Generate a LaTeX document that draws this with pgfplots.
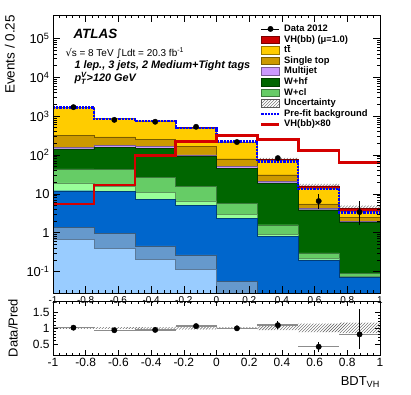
\documentclass[border=0pt]{standalone}
\usepackage{fontspec}
\setmainfont{Liberation Sans}
\newfontfamily\dejavu{DejaVu Sans}
\usepackage{amsmath}
\usepackage{pgfplots}
\pgfplotsset{compat=1.18}
\usepackage{pgfplotstable}
\usetikzlibrary{patterns}
\usepgfplotslibrary{fillbetween}

\definecolor{czl}{HTML}{99CCFF}
\definecolor{czcl}{HTML}{6699CC}
\definecolor{czhf}{HTML}{0066CC}
\definecolor{cwl}{HTML}{99FF99}
\definecolor{cwcl}{HTML}{66CC66}
\definecolor{cwhf}{HTML}{006600}
\definecolor{cmj}{HTML}{CC99FF}
\definecolor{cstop}{HTML}{CC9900}
\definecolor{cttb}{HTML}{FFCC00}
\definecolor{cvh}{HTML}{CC0000}
\definecolor{csig}{HTML}{D40000}
\definecolor{cpre}{HTML}{0000FF}

% cumulative stack tops per bin (left edge), last row closes the final bin
\pgfplotstableread{
x      zl    zcl   zhf   wl    wcl   whf   mj    stop  ttb   vh    hi    pre   sig
-1.00  0.66  1.36  12    19    44    143   157   320   1650  1655  1705  1670  5.5
-0.75  0.40  0.96  11.5  15.5  42    157   178   290   860   861   887   855   17
-0.50  0.21  0.46  7.3   11.1  26.5  151   166   248   760   761   784   755   96
-0.25  0.115 0.27  5.0   6.6   15.5  92    100   166   500   503   523   505   224
0.00   0.02  0.055 2.3   3.0   5.8   46    51    80    214   218   225   222   318
0.25   0.01  0.02  0.80  0.92  1.6   19    21    31    74    77    84    68    248
0.50   0.01  0.015 0.20  0.22  0.30  3.9   4.3   5.5   13.6  16.0  18.0  13.3  131
0.75   0.01  0.012 0.07  0.075 0.089 1.88  1.94  2.46  3.6   4.3   5.0   3.3   64
1.00   0.01  0.012 0.07  0.075 0.089 1.88  1.94  2.46  3.6   4.3   5.0   3.3   64
}\stacktab

\pgfplotstableread{
x       n     ep    em    r     rp     rm
-0.875  1700  41    41    1.01  0.03   0.03
-0.625  800   28    28    0.93  0.035  0.035
-0.375  715   27    27    0.94  0.035  0.035
-0.125  530   23    23    1.06  0.05   0.05
0.125   215   15    15    0.99  0.07   0.07
0.375   83    9     9     1.09  0.12   0.12
0.625   6.5   3.6   2.5   0.41  0.15   0.15
0.875   3.4   3.3   1.8   0.80  0.81   0.45
}\datatab

\pgfplotstableread{
x      lo    hi
-1.00  0.97  1.03
-0.75  0.97  1.03
-0.50  0.97  1.03
-0.25  0.96  1.04
0.00   0.97  1.03
0.25   0.93  1.08
0.50   0.87  1.14
0.75   0.84  1.17
1.00   0.84  1.17
}\bandtab

\pgfplotsset{
  layer/.style={const plot, fill=#1, draw=#1!60!black, line width=0.4bp, forget plot},
  boxleg/.style={legend image code/.code={\draw[##1] (0bp,-3.8bp) rectangle (18bp,3.8bp);}},
  lineleg/.style={legend image code/.code={\draw[##1] (0bp,0bp) -- (18bp,0bp);}},
  dataleg/.style={legend image code/.code={\draw[black, line width=0.8bp] (0bp,0bp) -- (18bp,0bp);
      \fill[black] (9bp,0bp) circle (2.7bp);}},
  atlas/.style={scale only axis, width=327bp, xmin=-1, xmax=1,
    axis on top, tick align=inside, axis line style={line width=0.8bp},
    every tick/.style={black, line width=0.6bp},
    xtick={-1,-0.8,-0.6,-0.4,-0.2,0,0.2,0.4,0.6,0.8,1}, minor x tick num=4,
    /pgf/number format/assume math mode=true},
}

\begin{document}
\begin{tikzpicture}
\begin{axis}[atlas,
  at={(0,0)}, anchor=north west, height=278bp,
  ymode=log, ymin=0.028, ymax=4e5, log origin y=infty,
  major tick length=7bp, minor tick length=3.5bp,
  xticklabel={},
  ytick={0.1,1,10,100,1000,10000,100000},
  yticklabels={10\textsuperscript{-1},1,10,10\textsuperscript{2},10\textsuperscript{3},10\textsuperscript{4},10\textsuperscript{5}},
  yticklabel style={font=\fontsize{13}{14}\selectfont},
  ylabel={Events / 0.25},
  ylabel style={font=\fontsize{13.5}{14}\selectfont, inner sep=0pt, at={(axis description cs:-0.116,1)}, anchor=south east},
  legend cell align=left,
  legend style={at={(axis description cs:0.624,0.975)}, anchor=north west, draw=none, fill=none,
    font=\fontsize{9.4}{10}\selectfont\bfseries,
    nodes={inner sep=0.5bp, text height=6.8bp, text depth=1.8bp}, row sep=1bp,
    /tikz/every odd column/.append style={column sep=3bp}},
]
\addplot[layer=cvh] table[y=vh]{\stacktab} \closedcycle;
\addplot[layer=cttb] table[y=ttb]{\stacktab} \closedcycle;
\addplot[layer=cstop] table[y=stop]{\stacktab} \closedcycle;
\addplot[layer=cmj] table[y=mj]{\stacktab} \closedcycle;
\addplot[layer=cwhf] table[y=whf]{\stacktab} \closedcycle;
\addplot[layer=cwcl] table[y=wcl]{\stacktab} \closedcycle;
\addplot[layer=cwl] table[y=wl]{\stacktab} \closedcycle;
\addplot[layer=czhf] table[y=zhf]{\stacktab} \closedcycle;
\addplot[layer=czcl] table[y=zcl]{\stacktab} \closedcycle;
\addplot[layer=czl] table[y=zl]{\stacktab} \closedcycle;

\addplot[const plot, draw=none, name path=tot, forget plot] table[y=vh]{\stacktab};
\addplot[const plot, draw=none, name path=uhi, forget plot] table[y=hi]{\stacktab};
\addplot[pattern=north east lines, pattern color=black!65, forget plot] fill between[of=uhi and tot];

\addplot[const plot, cpre, densely dotted, line width=2.2bp, forget plot] table[y=pre]{\stacktab};
\addplot[const plot, csig, line width=2.5bp, forget plot] table[y=sig]{\stacktab};

\addplot[only marks, mark=*, mark size=2.7bp, black, forget plot,
  error bars/.cd, y dir=both, y explicit, error mark=none,
  error bar style={line width=0.8bp, black}]
  table[x=x, y=n, y error plus=ep, y error minus=em]{\datatab};

\addlegendimage{dataleg}
\addlegendentry{Data 2012}
\addlegendimage{boxleg, fill=cvh, draw=cvh!60!black}
\addlegendentry{VH(bb) (μ=1.0)}
\addlegendimage{boxleg, fill=cttb, draw=cttb!60!black}
\addlegendentry{t\ensuremath{\overline{\mbox{t}}}}
\addlegendimage{boxleg, fill=cstop, draw=cstop!60!black}
\addlegendentry{Single top}
\addlegendimage{boxleg, fill=cmj, draw=cmj!60!black}
\addlegendentry{Multijet}
\addlegendimage{boxleg, fill=cwhf, draw=cwhf!60!black}
\addlegendentry{W+hf}
\addlegendimage{boxleg, fill=cwcl, draw=cwcl!60!black}
\addlegendentry{W+cl}
\addlegendimage{boxleg, pattern=north east lines, pattern color=black!65, draw=black!65}
\addlegendentry{Uncertainty}
\addlegendimage{lineleg, cpre, densely dotted, line width=2.2bp}
\addlegendentry{Pre-fit background}
\addlegendimage{lineleg, csig, line width=2.5bp}
\addlegendentry{VH(bb)×80}

\node[anchor=base west, font=\fontsize{13.5}{14}\selectfont\bfseries\itshape] at (rel axis cs:0.052,0.914) {ATLAS};
\node[anchor=base west, font=\fontsize{10}{12}\selectfont] at (rel axis cs:0.0275,0.851)
  {{\dejavu √}s = 8 TeV {\dejavu ∫}Ldt = 20.3 fb\textsuperscript{-1}};
\node[anchor=base west, font=\fontsize{10.9}{12}\selectfont\bfseries\itshape] at (rel axis cs:0.055,0.808)
  {1 lep., 3 jets, 2 Medium+Tight tags};
\node[anchor=base west, font=\fontsize{10.9}{12}\selectfont\bfseries\itshape] at (rel axis cs:0.055,0.760)
  {p$_{\text{T}}^{\text{V}}$>120 GeV};
\end{axis}

\begin{axis}[atlas,
  at={(0,-286bp)}, anchor=north west, height=54bp,
  ymin=0.15, ymax=1.85,
  major tick length=5bp, minor tick length=2.5bp,
  ytick={0.5,1,1.5}, yticklabels={0.5,1,1.5}, minor y tick num=4,
  xticklabels={-1,-0.8,-0.6,-0.4,-0.2,0,0.2,0.4,0.6,0.8,1},
  ticklabel style={font=\fontsize{12}{13}\selectfont},
  ylabel={Data/Pred},
  ylabel style={font=\fontsize{13}{14}\selectfont, inner sep=0pt, at={(axis description cs:-0.107,0.5)}, anchor=south},
  xlabel={BDT\textsubscript{VH}},
  xlabel style={font=\fontsize{13}{14}\selectfont, inner sep=0pt, at={(axis description cs:1,0)}, anchor=north east, yshift=-21bp},
]
\addplot[const plot, draw=none, name path=blo, forget plot] table[y=lo]{\bandtab};
\addplot[const plot, draw=none, name path=bhi, forget plot] table[y=hi]{\bandtab};
\addplot[pattern=north east lines, pattern color=black!65, forget plot] fill between[of=bhi and blo];

\addplot[only marks, mark=none, forget plot,
  error bars/.cd, x dir=both, x fixed=0.125, error mark=none,
  error bar style={line width=1.3bp, black!45}]
  table[x=x, y=r]{\datatab};
\addplot[only marks, mark=*, mark size=2.7bp, black, forget plot,
  error bars/.cd, y dir=both, y explicit, error mark=none,
  error bar style={line width=0.8bp, black}]
  table[x=x, y=r, y error plus=rp, y error minus=rm]{\datatab};
\end{axis}

\pgfresetboundingbox
\useasboundingbox (-53bp,15bp) rectangle (358bp,-380bp);
\end{tikzpicture}
\end{document}
